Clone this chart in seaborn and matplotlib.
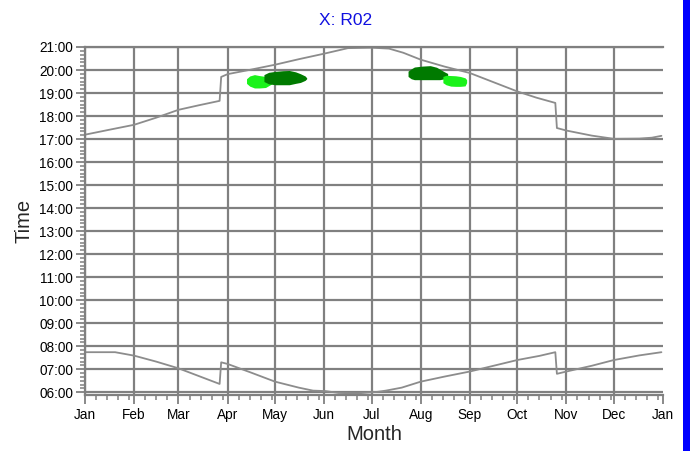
import numpy as np
import pandas as pd
import seaborn as sns
import matplotlib.pyplot as plt
from matplotlib.patches import Rectangle

# month labels and day-of-year where each month starts
months = ["Jan", "Feb", "Mar", "Apr", "May", "Jun", "Jul", "Aug", "Sep", "Oct", "Nov", "Dec", "Jan"]
month_start = [0, 31, 59, 90, 120, 151, 181, 212, 243, 273, 304, 334, 365]

# sunset curve (day of year, hours)
sunset_day = [0, 15, 31, 45, 59, 72, 85, 86, 90, 105, 120, 135, 151, 166, 181, 192, 201, 212,
              227, 243, 258, 273, 285, 297, 298, 304, 320, 334, 350, 358, 364]
sunset_time = [17.19, 17.40, 17.62, 17.93, 18.27, 18.47, 18.66, 19.70, 19.82, 20.02, 20.23, 20.47,
               20.71, 20.95, 20.97, 20.93, 20.75, 20.45, 20.15, 19.87, 19.47, 19.07, 18.80, 18.57,
               17.48, 17.37, 17.15, 17.01, 17.02, 17.06, 17.14]

# sunrise curve
sunrise_day = [0, 19, 31, 45, 59, 72, 85, 86, 90, 105, 120, 135, 144, 152, 160, 172, 185, 190,
               200, 212, 227, 243, 258, 273, 287, 297, 298, 304, 320, 334, 350, 364]
sunrise_time = [7.74, 7.74, 7.59, 7.33, 7.04, 6.70, 6.36, 7.30, 7.23, 6.85, 6.46, 6.20, 6.07,
                6.05, 5.97, 5.95, 6.02, 6.07, 6.20, 6.46, 6.68, 6.90, 7.15, 7.40, 7.58, 7.74,
                6.80, 6.90, 7.15, 7.40, 7.60, 7.74]

# glare periods (day, lower time, upper time)
spring_light_day = [102, 104, 107, 110, 114, 118]
spring_light_lo = [19.42, 19.30, 19.22, 19.22, 19.24, 19.40]
spring_light_hi = [19.62, 19.74, 19.80, 19.76, 19.72, 19.66]

spring_dark_day = [113, 116, 120, 125, 129, 133, 136, 139, 140]
spring_dark_lo = [19.50, 19.40, 19.36, 19.36, 19.36, 19.42, 19.46, 19.55, 19.62]
spring_dark_hi = [19.80, 19.90, 19.94, 19.97, 19.98, 19.92, 19.84, 19.74, 19.66]

summer_dark_day = [204, 206, 208, 213, 218, 222, 224, 227, 229]
summer_dark_lo = [19.72, 19.62, 19.58, 19.58, 19.58, 19.58, 19.58, 19.62, 19.68]
summer_dark_hi = [19.95, 20.05, 20.13, 20.17, 20.19, 20.12, 20.04, 19.92, 19.85]

summer_light_day = [226, 228, 231, 234, 237, 240, 241]
summer_light_lo = [19.45, 19.36, 19.30, 19.29, 19.29, 19.31, 19.45]
summer_light_hi = [19.72, 19.77, 19.76, 19.75, 19.72, 19.66, 19.58]

sns.set_style("white")
plt.rcParams['font.family'] = ['Liberation Sans', 'DejaVu Sans']

grid_col = "#808080"
line_col = "#8c8c8c"
light_green = "#1af21a"
dark_green = "#007a00"

fig = plt.figure(figsize=(6.91, 4.51), dpi=100)
ax = fig.add_axes([85 / 691, 1 - 395 / 451, 578 / 691, 348 / 451])

ax.set_xlim(0, 365)
ax.set_ylim(5.88, 21.0)

# grid lines
for d in month_start[:-1]:
    ax.axvline(d, color=grid_col, lw=1.6, zorder=1)
for h in range(6, 22):
    ax.axhline(h, color=grid_col, lw=1.6, zorder=1)

sunset_df = pd.DataFrame({"day": sunset_day, "time": sunset_time})
sunrise_df = pd.DataFrame({"day": sunrise_day, "time": sunrise_time})
sns.lineplot(data=sunset_df, x="day", y="time", color=line_col, lw=1.3, sort=False,
             estimator=None, ax=ax, zorder=2)
sns.lineplot(data=sunrise_df, x="day", y="time", color=line_col, lw=1.3, sort=False,
             estimator=None, ax=ax, zorder=2)

ax.fill_between(spring_light_day, spring_light_lo, spring_light_hi, color=light_green, lw=0, zorder=3)
ax.fill_between(spring_dark_day, spring_dark_lo, spring_dark_hi, color=dark_green, lw=0, zorder=4)
ax.fill_between(summer_dark_day, summer_dark_lo, summer_dark_hi, color=dark_green, lw=0, zorder=3)
ax.fill_between(summer_light_day, summer_light_lo, summer_light_hi, color=light_green, lw=0, zorder=4)

# ticks
ax.set_xticks(month_start)
ax.set_xticklabels(months)
minor_days = [s + k for s in month_start[:-1] for k in (7, 14, 21, 28)]
ax.set_xticks(minor_days, minor=True)
hours = list(range(6, 22))
ax.set_yticks(hours)
ax.set_yticklabels([f"{h:02d}:00" for h in hours])
ax.set_yticks([h + m / 6 for h in range(5, 21) for m in range(1, 6) if h + m / 6 > 5.88], minor=True)

ax.tick_params(axis="both", which="major", direction="out", color=grid_col, width=1.3,
               labelsize=9.8, labelcolor="black")
ax.tick_params(axis="x", which="major", length=6.5, pad=3)
ax.tick_params(axis="y", which="major", length=6.5, pad=2)
ax.tick_params(axis="both", which="minor", direction="out", color=grid_col, width=1.1, length=3.5)
ax.tick_params(bottom=True, left=True, which="both")

for side in ["left", "bottom", "top"]:
    ax.spines[side].set_color(grid_col)
    ax.spines[side].set_linewidth(1.6)
ax.spines["right"].set_visible(False)

ax.set_xlabel("Month", fontsize=14.5, labelpad=2)
ax.set_ylabel("Time", fontsize=14.5, labelpad=4)
fig.text(0.5, 0.955, "X: R02", color="#1010e0", fontsize=12.5, ha="center", va="center")

# blue bar on right edge
fig.add_artist(Rectangle((683 / 691, 0), 7 / 691, 1, transform=fig.transFigure,
                         color="#0000ff", lw=0))

fig.savefig("out.png", dpi=100)
